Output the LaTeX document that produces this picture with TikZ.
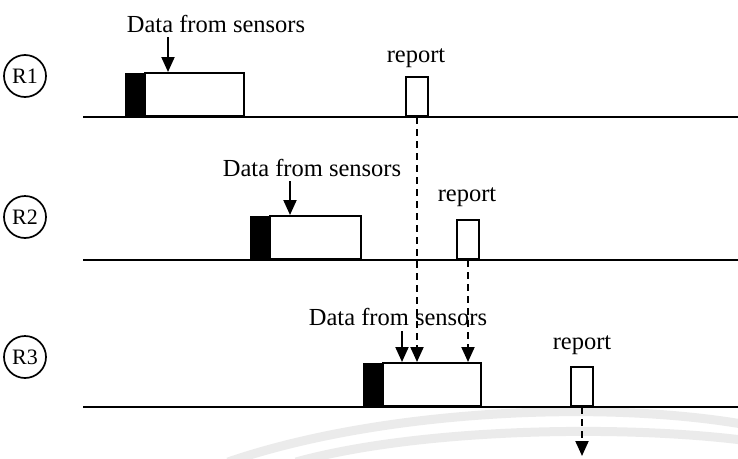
\documentclass[tikz,border=0pt]{standalone}
\usepackage{fontspec}
\setmainfont{Liberation Serif}
\usetikzlibrary{arrows.meta}
\begin{document}
\begin{tikzpicture}[x=1pt,y=-1pt,
  lbl/.style={font=\fontsize{24.5}{28}\selectfont, inner sep=0pt},
  rcirc/.style={draw, circle, line width=1.7pt, minimum size=42pt, inner sep=0pt, font=\fontsize{22}{26}\selectfont},
  tline/.style={line width=2pt},
  blk/.style={fill=black, draw=black, line width=1.2pt, anchor=south west, minimum height=43pt, minimum width=19pt, inner sep=0pt},
  wbox/.style={draw=black, fill=white, line width=2pt, anchor=south west, minimum height=43pt, inner sep=0pt},
  rbox/.style={draw=black, fill=white, line width=2pt, anchor=south west, minimum height=39pt, minimum width=22pt, inner sep=0pt},
  arr/.style={line width=2pt, -{Triangle[width=13pt,length=15pt]}},
  darr/.style={line width=2pt, dash pattern=on 7pt off 5pt, -{Triangle[width=13pt,length=15pt]}},
  wm/.style={line width=9pt, draw=black!8}
]
\useasboundingbox (0,0) rectangle (738,458);
% faint watermark arcs
\draw[wm] (228,462) .. controls (380,410) and (600,400) .. (742,424);
\draw[wm] (296,462) .. controls (420,428) and (620,425) .. (742,440);

% ---------- row 1 ----------
\node[rcirc] (c1) at (25,76) {R1};
\coordinate (l1s) at (83,117);
\coordinate (l1e) at (738,117);
\draw[tline] (l1s) -- (l1e);
\node[blk] (k1) at (125,117) {};
\node[wbox, minimum width=99pt] (w1) at (144,117) {};
\node[rbox] (r1) at (405,117) {};
\node[lbl] (t1) at (216,24) {Data from sensors};
\node[lbl] (p1) at (416,58) {report};
\coordinate (a1) at (168,37);
\draw[arr] (a1) -- (a1 |- w1.north);

% ---------- row 2 ----------
\node[rcirc] (c2) at (25,217) {R2};
\coordinate (l2s) at (83,260);
\coordinate (l2e) at (738,260);
\draw[tline] (l2s) -- (l2e);
\node[blk] (k2) at (250,260) {};
\node[wbox, minimum width=91pt] (w2) at (269,260) {};
\node[rbox] (r2) at (456,260) {};
\node[lbl] (t2) at (312,168) {Data from sensors};
\node[lbl] (p2) at (467,197) {report};
\coordinate (a2) at (290,181);
\draw[arr] (a2) -- (a2 |- w2.north);

% ---------- row 3 ----------
\node[rcirc] (c3) at (25,357) {R3};
\coordinate (l3s) at (83,407);
\coordinate (l3e) at (738,407);
\draw[tline] (l3s) -- (l3e);
\node[blk] (k3) at (363,407) {};
\node[wbox, minimum width=98pt] (w3) at (382,407) {};
\node[rbox] (r3) at (570,407) {};
\node[lbl] (t3) at (398,317) {Data from sensors};
\node[lbl] (p3) at (582,345) {report};
\coordinate (a3) at (402,331);
\draw[arr] (a3) -- (a3 |- w3.north);

% ---------- dashed report arrows ----------
\draw[darr] (r1.south) -- (r1.south |- w3.north);
\draw[darr] (r2.south) -- (r2.south |- w3.north);
\coordinate (e3) at (580,456);
\draw[darr] (r3.south) -- (r3.south |- e3);
\end{tikzpicture}
\end{document}
